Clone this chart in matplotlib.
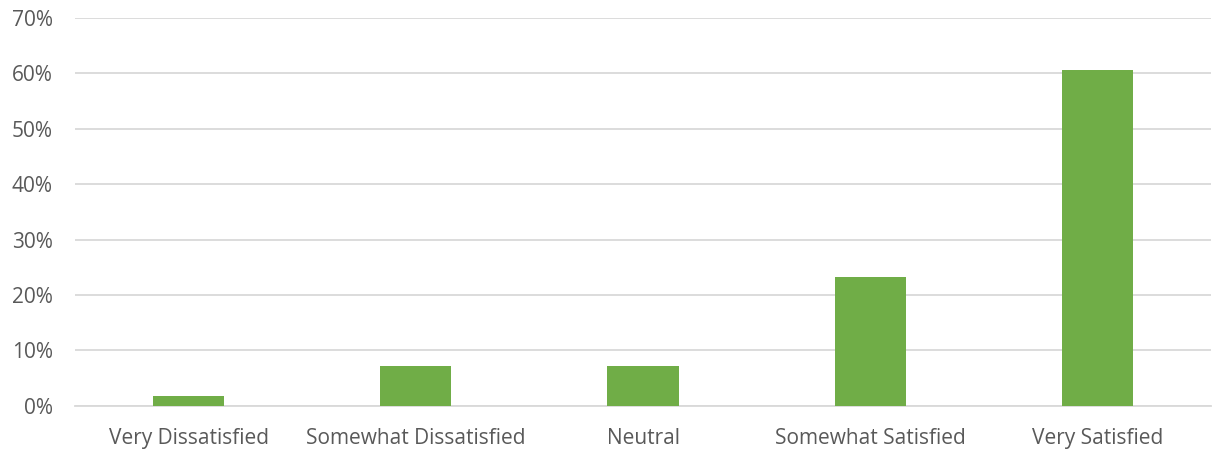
import matplotlib
matplotlib.use("Agg")
import matplotlib.pyplot as plt
import matplotlib.ticker as ticker

categories = ["Very Dissatisfied", "Somewhat Dissatisfied", "Neutral",
              "Somewhat Satisfied", "Very Satisfied"]
shares = [0.018, 0.071, 0.071, 0.232, 0.607]

_BAR_COLOR  = "#70ad47"
_GRID_COLOR = "#d9d9d9"
_TEXT_COLOR = "#595959"

plt.rcParams["font.family"] = ["Open Sans", "DejaVu Sans"]

fig = plt.figure(figsize=(12.16, 4.5), dpi=100)
ax = fig.add_axes([0.0617, 0.0984, 0.9342, 0.8616])

x = range(len(categories))
ax.bar(x, shares, width=0.313, color=_BAR_COLOR, zorder=3)

ax.set_xlim(-0.5, len(categories) - 0.5)
ax.set_ylim(0, 0.7)
ax.set_yticks([i / 10 for i in range(8)])
ax.yaxis.set_major_formatter(ticker.PercentFormatter(1.0, decimals=0))
ax.set_xticks(list(x))
ax.set_xticklabels(categories)

ax.grid(True, axis="y", color=_GRID_COLOR, linewidth=1.3, zorder=0)
for s in ["top", "right", "left"]:
    ax.spines[s].set_visible(False)
ax.spines["bottom"].set_color(_GRID_COLOR)
ax.spines["bottom"].set_linewidth(1.3)
ax.tick_params(axis="both", length=0, labelsize=15, colors=_TEXT_COLOR)
ax.tick_params(axis="y", pad=16)
ax.tick_params(axis="x", pad=16)

fig.savefig("out.png", dpi=100)
